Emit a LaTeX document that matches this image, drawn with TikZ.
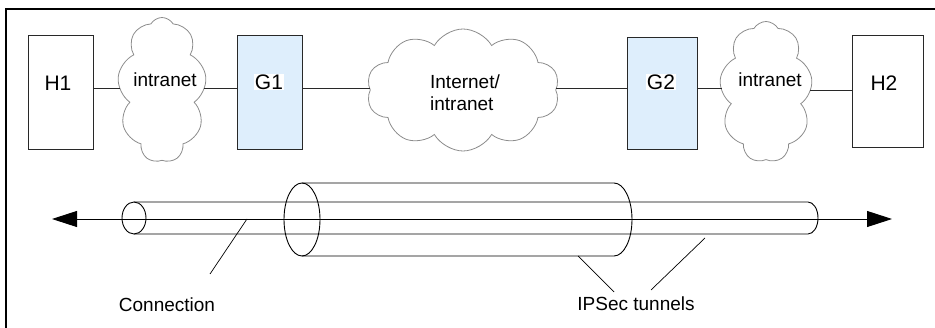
\documentclass[tikz,border=0pt]{standalone}
\usepackage{fontspec}
\setmainfont{Liberation Sans}
\usetikzlibrary{shapes.symbols,arrows.meta}
\definecolor{gwfill}{RGB}{222,238,252}
\definecolor{lncol}{RGB}{40,40,40}
\definecolor{cloudcol}{RGB}{140,140,140}
\begin{document}
\begin{tikzpicture}[x=1pt,y=-1pt,
  txt/.style={font=\fontsize{19}{22}\selectfont, inner sep=1pt},
  bigtxt/.style={font=\fontsize{21}{24}\selectfont, inner sep=1pt},
  hostbox/.style={draw=lncol, line width=1pt, minimum width=65pt, minimum height=114pt, inner sep=0pt},
  gwbox/.style={hostbox, fill=gwfill},
  netcloud/.style={cloud, draw=cloudcol, line width=0.8pt, cloud ignores aspect, inner sep=0pt, cloud puff arc=120},
  wire/.style={draw=lncol, line width=0.9pt},
  tube/.style={draw=black, line width=0.9pt},
  leader/.style={draw=black, line width=0.7pt}]
\useasboundingbox (0,0) rectangle (935,328);
% frame (top and left edges)
\draw[line width=1.2pt] (6,328) -- (6,9) -- (935,9);
% top row
\node[hostbox] (H1) at (60.5,93) {};
\node[bigtxt] at (58,83) {H1};
\node[netcloud, cloud puffs=9, minimum width=89pt, minimum height=145pt] (c1) at (162,90) {};
\node[txt] (c1t) at (165,80) {intranet};
\node[gwbox] (G1) at (269.5,92.5) {};
\node[bigtxt, fill=white] (G1t) at (269,82) {G1};
\node[netcloud, cloud puffs=10, minimum width=193pt, minimum height=122pt] (c2) at (463,90) {};
\node[txt, align=left] (c2t) at (465,93) {Internet/\\intranet};
\node[gwbox, minimum width=70pt, minimum height=112pt] (G2) at (662,94) {};
\node[bigtxt, fill=white] (G2t) at (661,82) {G2};
\node[netcloud, cloud puffs=9, minimum width=93pt, minimum height=141pt] (c3) at (766,92) {};
\node[txt] (c3t) at (770,80) {intranet};
\node[hostbox, minimum width=71pt, minimum height=112pt] (H2) at (887.5,92) {};
\node[bigtxt] at (884,83) {H2};
\coordinate (row) at (0,88);
\coordinate (row2) at (0,90);
\draw[wire] (H1.east |- row) -- (c1.west |- row);
\draw[wire] (c1.east |- row) -- (G1.west |- row);
\draw[wire] (G1.east |- row) -- (c2.west |- row);
\draw[wire] (c2.east |- row) -- (G2.west |- row);
\draw[wire] (G2.east |- row) -- (c3.west |- row);
\draw[wire] (c3.east |- row2) -- (H2.west |- row2);
% tubes
\coordinate (la) at (52,219);
\coordinate (ra) at (892,219);
\draw[tube] (134,218) ellipse [x radius=12pt, y radius=16pt];
\draw[tube] (134,202) -- (808,202) arc [start angle=90, end angle=-90, x radius=10pt, y radius=16pt] -- (134,234);
\draw[tube] (302,219.5) ellipse [x radius=18pt, y radius=36.5pt];
\draw[tube] (302,183) -- (614,183) arc [start angle=90, end angle=-90, x radius=18pt, y radius=36.5pt] -- (302,256);
\draw[tube, {Triangle[length=25pt,width=16pt]}-{Triangle[length=25pt,width=16pt]}] (la) -- (ra);
% labels and leaders
\node[txt] (conn) at (167,305) {Connection};
\node[txt] (ipsec) at (636,304) {IPSec tunnels};
\coordinate (cA) at (247,219);
\coordinate (cB) at (210,274);
\coordinate (iA1) at (578,256);
\coordinate (iB1) at (614,292);
\coordinate (iA2) at (705,238);
\coordinate (iB2) at (651,290);
\draw[leader] (cA) -- (cB);
\draw[leader] (iA1) -- (iB1);
\draw[leader] (iA2) -- (iB2);
\end{tikzpicture}
\end{document}
